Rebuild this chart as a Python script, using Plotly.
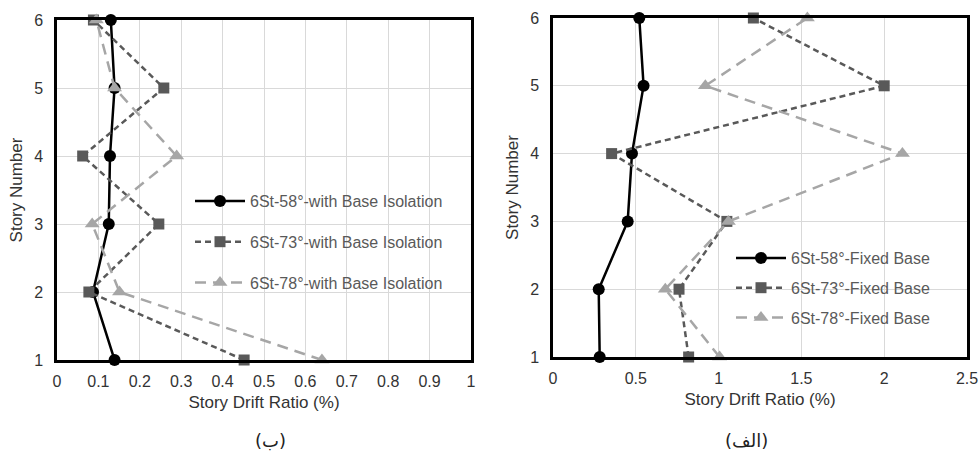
import plotly.graph_objects as go

stories = [1, 2, 3, 4, 5, 6]

# Left panel (with base isolation), values per story 1..6
iso_58 = [0.139, 0.087, 0.125, 0.128, 0.139, 0.130]
iso_73 = [0.452, 0.077, 0.246, 0.062, 0.258, 0.088]
iso_78 = [0.640, 0.151, 0.085, 0.289, 0.139, 0.095]

# Right panel (fixed base)
fix_58 = [0.282, 0.276, 0.451, 0.477, 0.547, 0.521]
fix_73 = [0.819, 0.761, 1.050, 0.354, 2.000, 1.210]
fix_78 = [1.006, 0.678, 1.059, 2.110, 0.920, 1.536]

names_iso = ["6St-58°-with Base Isolation", "6St-73°-with Base Isolation", "6St-78°-with Base Isolation"]
names_fix = ["6St-58°-Fixed Base", "6St-73°-Fixed Base", "6St-78°-Fixed Base"]

BLACK = "#000000"
DARK = "#595959"
LIGHT = "#a6a6a6"

styles = [
    dict(color=BLACK, dash="solid", symbol="circle", size=12),
    dict(color=DARK, dash="6px,4px", symbol="square", size=11),
    dict(color=LIGHT, dash="11px,7px", symbol="triangle-up", size=13),
]

fig = go.Figure()

def add(xs, name, st, xa, ya, leg, grp):
    fig.add_trace(go.Scatter(
        x=xs, y=stories, mode="lines+markers", name=name,
        line=dict(color=st["color"], dash=st["dash"], width=2.5),
        marker=dict(color=st["color"], symbol=st["symbol"], size=st["size"]),
        xaxis=xa, yaxis=ya, legend=leg, legendgroup=grp, cliponaxis=False,
    ))

for vals, nm, st, i in zip([iso_58, iso_73, iso_78], names_iso, styles, range(3)):
    add(vals, nm, st, "x", "y", "legend", "a%d" % i)
for vals, nm, st, i in zip([fix_58, fix_73, fix_78], names_fix, styles, range(3)):
    add(vals, nm, st, "x2", "y2", "legend2", "b%d" % i)

W, H = 979, 452
font = "Liberation Sans, Arial, sans-serif"
tickfont = dict(family=font, size=16, color="#333333")
titlefont = dict(family=font, size=17, color="#333333")

def xax(domain, rng, dtick, anchor):
    return dict(domain=domain, range=rng, dtick=dtick, tick0=0, anchor=anchor, automargin=False,
                showgrid=True, gridcolor="#d9d9d9", gridwidth=1,
                showline=True, linecolor="black", linewidth=2.5, mirror=True,
                zeroline=False, ticks="outside", ticklen=5, tickcolor="rgba(0,0,0,0)",
                tickfont=tickfont, title=dict(text="Story Drift Ratio (%)", font=titlefont, standoff=8))

def yax(domain, anchor):
    return dict(domain=domain, range=[1, 6], dtick=1, anchor=anchor, automargin=False,
                showgrid=True, gridcolor="#d9d9d9", gridwidth=1,
                showline=True, linecolor="black", linewidth=2.5, mirror=True,
                zeroline=False, ticks="outside", ticklen=8, tickcolor="rgba(0,0,0,0)",
                tickfont=tickfont, title=dict(text="Story Number", font=titlefont, standoff=8))

fig.update_layout(
    width=W, height=H,
    margin=dict(l=0, r=0, t=0, b=0, autoexpand=False),
    paper_bgcolor="white", plot_bgcolor="white",
    font=dict(family=font),
    xaxis=xax([57 / W, 471 / W], [0, 1], 0.1, "y"),
    yaxis=yax([1 - 360 / H, 1 - 20 / H], "x"),
    xaxis2=xax([553 / W, 967 / W], [0, 2.5], 0.5, "y2"),
    yaxis2=yax([1 - 357 / H, 1 - 18 / H], "x2"),
    legend=dict(x=190 / W, y=1 - 184 / H, xanchor="left", yanchor="top",
                bgcolor="rgba(0,0,0,0)", itemwidth=50, tracegroupgap=17,
                font=dict(family=font, size=16, color=DARK)),
    legend2=dict(x=731 / W, y=1 - 241 / H, xanchor="left", yanchor="top",
                 bgcolor="rgba(0,0,0,0)", itemwidth=50, tracegroupgap=6,
                 font=dict(family=font, size=16, color=DARK)),
    showlegend=True,
    annotations=[
        dict(text="(ب)", x=270 / W, y=1 - 440 / H, xref="paper", yref="paper",
             xanchor="center", yanchor="middle",
             showarrow=False, font=dict(family="DejaVu Sans, sans-serif", size=18, color="#222")),
        dict(text="(الف)", x=746 / W, y=1 - 440 / H, xref="paper", yref="paper",
             xanchor="center", yanchor="middle",
             showarrow=False, font=dict(family="DejaVu Sans, sans-serif", size=18, color="#222")),
    ],
)

fig.write_html("out.html", config={"displayModeBar": False},
               post_script="document.body.style.margin='0';document.body.style.overflow='hidden';")
